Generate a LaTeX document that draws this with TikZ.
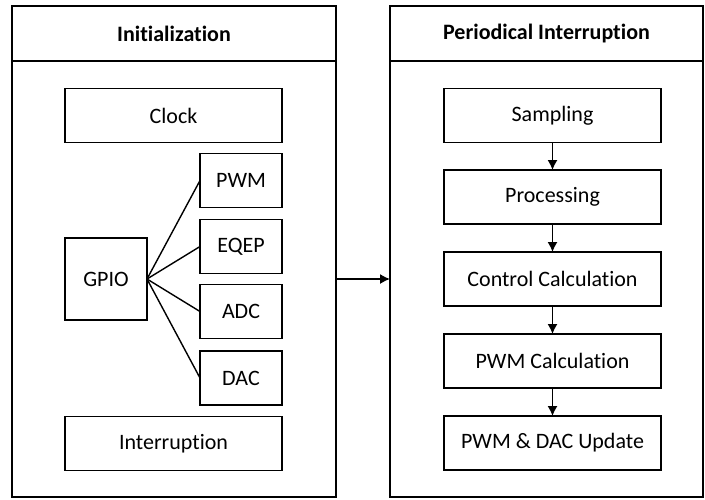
\documentclass[tikz,border=0pt]{standalone}
\usepackage{fontspec}
\setmainfont{Carlito}[Ligatures={NoCommon,NoRare,NoContextual}]
\usetikzlibrary{arrows.meta}
\begin{document}
\begin{tikzpicture}[x=0.5pt,y=-0.5pt,
  every node/.style={font=\fontsize{11}{13}\selectfont, inner sep=0pt, outer sep=0pt},
  frame/.style={draw, line width=1pt, minimum width=#1},
  hdr/.style={frame=#1, minimum height=27.5pt, font=\fontsize{11}{13}\selectfont\bfseries},
  body/.style={frame=#1, minimum height=218pt},
  blk/.style={draw, line width=0.9pt, minimum width=108.5pt, minimum height=27pt},
  sblk/.style={draw, line width=0.9pt, minimum width=41pt, minimum height=27pt},
  link/.style={line width=0.7pt},
  arr/.style={line width=0.7pt, -{Latex[length=5pt,width=5pt]}}
]
\useasboundingbox (0,0) rectangle (705,499);
% left panel
\node[hdr=162pt] (inith) at (174,33.5) {Initialization};
\node[body=162pt] (initb) at (174,279) {};
\node[blk] (clock) at (173.5,115.5) {Clock};
\node[sblk, minimum height=41pt] (gpio) at (106,279) {GPIO};
\node[sblk] (pwm) at (241,180.5) {PWM};
\node[sblk] (eqep) at (241,246.5) {EQEP};
\node[sblk] (adc) at (241,311.5) {ADC};
\node[sblk] (dac) at (241,378) {DAC};
\node[blk] (intr) at (173.5,443.5) {Interruption};
\foreach \t in {pwm,eqep,adc,dac} \draw[link] (gpio.east) -- (\t.west);
% right panel
\node[hdr=156.5pt] (perh) at (546.5,33.5) {Periodical Interruption};
\node[body=156.5pt] (perb) at (546.5,279) {};
\node[blk] (samp) at (552.5,115.5) {Sampling};
\node[blk] (proc) at (552.5,197) {Processing};
\node[blk] (ctrl) at (552.5,279) {Control Calculation};
\node[blk] (pwmc) at (552.5,361) {PWM Calculation};
\node[blk] (upd) at (552.5,443) {PWM \& DAC Update};
\draw[arr] (samp) -- (proc);
\draw[arr] (proc) -- (ctrl);
\draw[arr] (ctrl) -- (pwmc);
\draw[arr] (pwmc) -- (upd);
\draw[arr] (initb.east) -- (perb.west);
\end{tikzpicture}
\end{document}
